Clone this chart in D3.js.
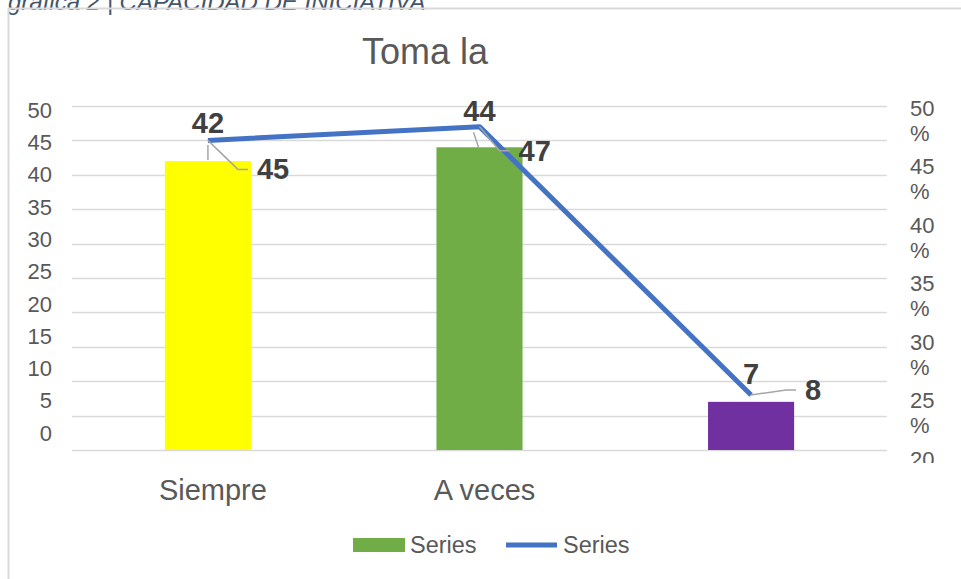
<!DOCTYPE html>
<html lang="es">
<head>
    <meta charset="UTF-8">
    <title>Toma la iniciativa</title>
    <script src="https://d3js.org/d3.v7.min.js"></script>
    <style>
        body { margin: 0; background: #fff; }
        svg { display: block; font-family: "Liberation Sans", Arial, sans-serif; }
        .grid { stroke: #d9d9d9; stroke-width: 1.3; }
        .tick-label { fill: #595959; font-size: 22px; }
        .data-label { fill: #404040; font-size: 29px; font-weight: bold; }
        .leader { stroke: #a6a6a6; stroke-width: 1.5; fill: none; }
    </style>
</head>
<body>
<svg id="chart" width="961" height="579"></svg>
<script>
    // datos
    const categories = ["Siempre", "A veces", ""];
    const counts = [42, 44, 7];          // barras (frecuencia)
    const percents = [45, 47, 8];        // linea (%)
    const barColors = ["#ffff00", "#70ad47", "#7030a0"];
    const leftTicks = [0, 5, 10, 15, 20, 25, 30, 35, 40, 45, 50];
    const rightTicks = [50, 45, 40, 35, 30, 25, 20];   // el resto queda fuera del area visible

    // ajustes de etiquetas (layout)
    const barLabelDy = [-28, -26, -18];
    const lineLeader = [[30, 29], [20, 24], [35, -5]];

    const svg = d3.select("#chart");

    // marco y encabezado
    svg.append("text")
        .attr("x", 8).attr("y", 10)
        .attr("font-size", 24).attr("font-style", "italic")
        .attr("fill", "#44546a")
        .text("gráfica 2 | CAPACIDAD DE INICIATIVA");
    svg.append("path")
        .attr("d", "M8.5,579 L8.5,8.5 L961,8.5")
        .attr("stroke", "#d9d9d9").attr("stroke-width", 2).attr("fill", "none");

    // titulo
    svg.append("text")
        .attr("x", 425).attr("y", 64)
        .attr("text-anchor", "middle")
        .attr("font-size", 36).attr("fill", "#595959")
        .text("Toma la");

    const plotLeft = 72, plotRight = 887, plotTop = 106, plotBottom = 450;

    const x = d3.scaleBand().domain(d3.range(categories.length))
        .range([plotLeft, plotRight]).paddingInner(0.683).paddingOuter(0.342);
    const y = d3.scaleLinear().domain([0, 50]).range([plotBottom, plotTop]);
    const yPct = d3.scaleLinear().domain([0, 50]).range([plotBottom, plotTop]);
    // las etiquetas del eje aparecen desplazadas en la imagen original
    const yLab = d3.scaleLinear().domain([0, 50]).range([433, 110]);
    const yRightLab = d3.scaleLinear().domain([50, 0]).range([108, 108 + 58.5 * 10]);

    // lineas de cuadricula
    svg.append("g").selectAll("line")
        .data(leftTicks)
        .join("line")
        .attr("class", "grid")
        .attr("x1", plotLeft).attr("x2", plotRight)
        .attr("y1", d => Math.round(y(d)) + 0.5)
        .attr("y2", d => Math.round(y(d)) + 0.5);

    // eje izquierdo
    svg.append("g").selectAll("text")
        .data(leftTicks)
        .join("text")
        .attr("class", "tick-label")
        .attr("x", 52).attr("y", d => yLab(d))
        .attr("dy", "0.35em")
        .attr("text-anchor", "end")
        .text(d => d);

    // eje derecho (recortado como en el original)
    svg.append("clipPath").attr("id", "rclip")
        .append("rect").attr("x", 890).attr("y", 90).attr("width", 71).attr("height", 373);
    const rg = svg.append("g").attr("clip-path", "url(#rclip)");
    rightTicks.forEach(t => {
        const ty = yRightLab(t);
        rg.append("text").attr("class", "tick-label")
            .attr("x", 910).attr("y", ty).attr("dy", "0.35em").text(t);
        if (ty + 25 < 463) {
            rg.append("text").attr("class", "tick-label")
                .attr("x", 910).attr("y", ty + 25).attr("dy", "0.35em").text("%");
        }
    });

    // barras
    svg.append("g").selectAll("rect")
        .data(counts)
        .join("rect")
        .attr("x", (d, i) => x(i))
        .attr("width", x.bandwidth())
        .attr("y", d => y(d))
        .attr("height", d => y(0) - y(d))
        .attr("fill", (d, i) => barColors[i]);

    // etiquetas de categoria
    svg.append("g").selectAll("text")
        .data(categories)
        .join("text")
        .attr("x", (d, i) => x(i) + x.bandwidth() / 2 + 5)
        .attr("y", 500)
        .attr("text-anchor", "middle")
        .attr("font-size", 29).attr("fill", "#595959")
        .text(d => d);

    // linea de porcentajes
    const cx = i => x(i) + x.bandwidth() / 2;
    const line = d3.line().x((d, i) => cx(i)).y(d => yPct(d));
    svg.append("path")
        .datum(percents)
        .attr("d", line)
        .attr("fill", "none")
        .attr("stroke", "#4472c4")
        .attr("stroke-width", 5)
        .attr("stroke-linejoin", "round");

    // lineas guia de las etiquetas de barra
    svg.append("line").attr("class", "leader")
        .attr("x1", cx(0)).attr("x2", cx(0))
        .attr("y1", y(counts[0]) - 16).attr("y2", y(counts[0]) - 1);
    svg.append("line").attr("class", "leader")
        .attr("x1", cx(1) - 6).attr("x2", cx(1) - 1)
        .attr("y1", y(counts[1]) - 15).attr("y2", y(counts[1]));

    // etiquetas de barras
    svg.append("g").selectAll("text")
        .data(counts)
        .join("text")
        .attr("class", "data-label")
        .attr("x", (d, i) => cx(i))
        .attr("y", (d, i) => y(d) + barLabelDy[i])
        .attr("text-anchor", "middle")
        .text(d => d);

    // etiquetas de la linea con guias
    percents.forEach((p, i) => {
        const px = cx(i), py = yPct(p);
        const [dx, dy] = lineLeader[i];
        svg.append("path").attr("class", "leader")
            .attr("d", `M${px},${py} L${px + dx},${py + dy} L${px + dx + 10},${py + dy}`);
        svg.append("text").attr("class", "data-label")
            .attr("x", px + dx + 19)
            .attr("y", py + dy + 10)
            .text(p);
    });

    // leyenda
    const lg = svg.append("g");
    lg.append("rect").attr("x", 353).attr("y", 538).attr("width", 52).attr("height", 14).attr("fill", "#70ad47");
    lg.append("text").attr("x", 410).attr("y", 553).attr("font-size", 23.5).attr("fill", "#595959").text("Series");
    lg.append("line").attr("x1", 506).attr("x2", 557).attr("y1", 545).attr("y2", 545)
        .attr("stroke", "#4472c4").attr("stroke-width", 5);
    lg.append("text").attr("x", 563).attr("y", 553).attr("font-size", 23.5).attr("fill", "#595959").text("Series");
</script>
</body>
</html>
